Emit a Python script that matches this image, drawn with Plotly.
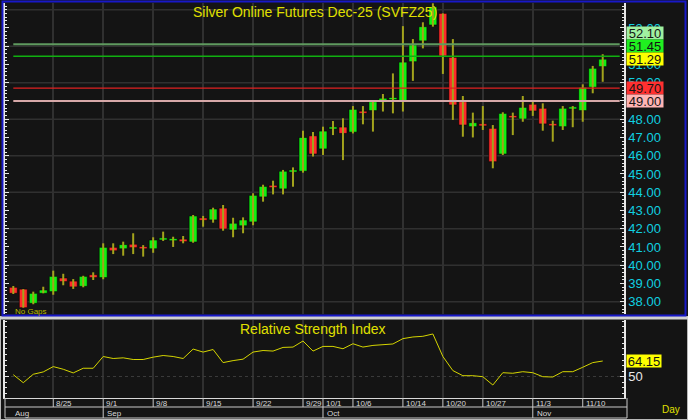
import plotly.graph_objects as go

W, H = 688, 420

bar_idx = list(range(60))
opens = [38.79, 38.69, 37.91, 38.46, 38.55, 39.30, 39.13, 38.84, 39.48, 39.32,
         40.98, 40.90, 41.15, 40.98, 40.90, 41.38, 41.34, 41.43, 41.27, 42.59,
         42.48, 43.13, 41.93, 42.16, 42.37, 43.74, 44.38, 44.18, 45.10, 45.15,
         47.09, 46.37, 47.46, 47.57, 47.29, 48.40, 48.47, 48.93, 49.07, 49.00,
         51.15, 52.29, 53.16, 53.80, 51.39, 48.96, 47.59, 47.75, 47.50, 46.09,
         48.12, 48.01, 48.82, 48.60, 47.75, 47.59, 48.56, 48.47, 49.75, 50.88]
highs = [38.86, 38.69, 38.55, 38.82, 39.70, 39.53, 39.24, 39.42, 39.61, 41.20,
         41.20, 41.29, 41.75, 41.10, 41.53, 41.84, 41.56, 41.60, 42.75, 42.70,
         43.15, 43.30, 42.60, 42.62, 43.94, 44.41, 44.63, 45.22, 45.36, 47.37,
         47.30, 47.59, 47.90, 48.05, 48.72, 48.72, 49.01, 49.38, 50.51, 53.10,
         52.39, 53.31, 54.35, 53.80, 52.39, 49.27, 48.36, 48.72, 47.68, 48.38,
         48.36, 49.27, 49.05, 48.87, 47.92, 48.72, 48.72, 49.91, 50.92, 51.56]
lows = [38.42, 37.67, 37.86, 38.46, 38.38, 38.90, 38.70, 38.79, 39.19, 39.23,
        40.61, 40.52, 40.61, 40.47, 40.68, 41.33, 41.00, 41.20, 41.23, 42.11,
        42.33, 41.89, 41.53, 41.75, 42.19, 43.48, 43.88, 43.88, 44.30, 45.07,
        45.95, 46.04, 47.13, 45.76, 47.22, 47.72, 47.32, 48.42, 48.32, 48.42,
        50.10, 51.88, 53.07, 50.48, 47.96, 47.04, 47.00, 47.41, 45.31, 46.04,
        47.13, 47.86, 48.18, 47.37, 46.77, 47.41, 47.56, 47.86, 49.42, 50.05]
closes = [38.46, 37.67, 38.46, 38.64, 39.39, 39.10, 38.81, 39.39, 39.32, 40.98,
          40.79, 41.13, 40.96, 40.90, 41.38, 41.42, 41.42, 41.29, 42.70, 42.46,
          43.08, 41.98, 42.30, 42.48, 43.83, 44.32, 44.25, 45.15, 45.18, 47.00,
          46.09, 47.35, 47.50, 47.22, 48.54, 48.32, 48.96, 49.15, 49.11, 51.13,
          52.07, 53.07, 54.16, 51.46, 48.78, 47.68, 47.81, 47.63, 45.67, 48.32,
          48.08, 48.65, 48.45, 47.74, 47.64, 48.60, 48.62, 49.75, 50.79, 51.29]
rsi = [51.8, 44.6, 52.2, 54.3, 59.1, 56.7, 53.4, 57.6, 57.6, 68.2,
       66.4, 67.0, 65.5, 65.5, 67.6, 69.1, 68.2, 66.4, 74.9, 72.2,
       74.5, 62.7, 64.5, 65.8, 72.2, 73.6, 73.1, 76.4, 76.7, 82.2,
       73.1, 77.3, 77.3, 75.2, 79.7, 76.7, 78.2, 79.1, 79.5, 84.3,
       85.8, 86.4, 88.5, 68.2, 55.5, 50.9, 50.9, 50.0, 42.5, 53.6,
       53.1, 54.5, 53.6, 50.0, 49.7, 54.5, 54.5, 58.5, 62.7, 64.15]

tick_idx = [4, 9, 14, 19, 24, 29, 31, 34, 39, 43, 47, 52, 57]
tick_labels = ["8/25", "9/1", "9/8", "9/15", "9/22", "9/29", "10/1", "10/6",
               "10/14", "10/20", "10/27", "11/3", "11/10"]
month_idx = [0, 9, 31, 52]
month_labels = ["Aug", "Sep", "Oct", "Nov"]

price_ticks = list(range(38, 54))
level_values = [52.10, 51.45, 49.70, 49.00]
level_line_colors = ["#5f9a5f", "#10b010", "#e02020", "#d6a8a8"]
level_line_widths = [2, 1.5, 1.2, 2]
box_values = [52.10, 51.45, 51.29, 49.70, 49.00]
box_colors = ["#a0f0a0", "#20f020", "#ffff00", "#ff3030", "#ffb4b4"]
box_shift = [11, 10, 0, 0, 0]
last_rsi = rsi[-1]

X_RANGE = [-0.83, 61.13]
Y_RANGE = [37.326, 54.367]
RSI_RANGE = [30.8, 101.1]

def px(x):
    return x / W

def py(y):
    return 1 - y / H

GREEN = "#10f010"
RED = "#ff2a2a"
WICK = "#a3a31c"
BG = "#141414"
GRID = "#303030"
CYAN = "#10d0e0"
YEL = "#e0e000"
FONT = "Arial, Liberation Sans, sans-serif"

fig = go.Figure()

# wicks
wx, wy = [], []
for i, h, l in zip(bar_idx, highs, lows):
    wx += [i, i, None]
    wy += [l, h, None]
fig.add_trace(go.Scatter(x=wx, y=wy, mode="lines", line=dict(color=WICK, width=2),
                         hoverinfo="skip", showlegend=False, xaxis="x", yaxis="y"))

# bodies
base = [min(o, c) for o, c in zip(opens, closes)]
height = [max(abs(c - o), 0.12) for o, c in zip(opens, closes)]
colors = [GREEN if c >= o else RED for o, c in zip(opens, closes)]
fig.add_trace(go.Bar(x=bar_idx, y=height, base=base, width=0.8,
                     marker=dict(color=colors, line=dict(color="#000000", width=0.6)),
                     showlegend=False, xaxis="x", yaxis="y"))

# RSI
fig.add_trace(go.Scatter(x=bar_idx, y=rsi, mode="lines", line=dict(color="#d4d400", width=1),
                         showlegend=False, xaxis="x2", yaxis="y2"))

shapes = []
for v in range(38, 55, 2):
    shapes.append(dict(type="line", xref="x", yref="y", x0=X_RANGE[0], x1=X_RANGE[1],
                       y0=v, y1=v, line=dict(color=GRID, width=1.5), layer="below"))
for v, c, w in zip(level_values, level_line_colors, level_line_widths):
    shapes.append(dict(type="line", xref="x", yref="y", x0=0, x1=60.7, y0=v, y1=v,
                       line=dict(color=c, width=w)))

row_top, row_mid, row_bot = 398, 407, 418
for t in tick_idx:
    shapes.append(dict(type="line", xref="x2", yref="paper", x0=t, x1=t,
                       y0=py(row_mid), y1=py(row_top), line=dict(color="#c8c8c8", width=1)))
for m in month_idx[1:]:
    shapes.append(dict(type="line", xref="x2", yref="paper", x0=m, x1=m,
                       y0=py(row_bot), y1=py(row_mid), line=dict(color="#c8c8c8", width=1)))
shapes.append(dict(type="line", xref="paper", yref="paper", x0=px(5), x1=px(627),
                   y0=py(row_mid), y1=py(row_mid), line=dict(color="#c8c8c8", width=1)))
shapes.append(dict(type="line", xref="paper", yref="paper", x0=px(5), x1=px(627),
                   y0=py(row_bot), y1=py(row_bot), line=dict(color="#c8c8c8", width=1)))
shapes.append(dict(type="line", xref="paper", yref="paper", x0=px(627), x1=px(627),
                   y0=py(row_bot), y1=py(row_top), line=dict(color="#c8c8c8", width=1)))
shapes.append(dict(type="line", xref="paper", yref="paper", x0=px(5), x1=px(5),
                   y0=py(row_bot), y1=py(row_top), line=dict(color="#c8c8c8", width=1)))

shapes.append(dict(type="rect", xref="paper", yref="paper", x0=0, x1=1, y0=0, y1=py(317),
                   line=dict(color="#b8b8b8", width=2), fillcolor="rgba(0,0,0,0)"))
shapes.append(dict(type="rect", xref="paper", yref="paper", x0=0, x1=1, y0=py(319.5), y1=py(316.5),
                   line=dict(width=0), fillcolor="#d0d0d0"))
shapes.append(dict(type="rect", xref="paper", yref="paper", x0=px(2.5), x1=px(685.5),
                   y0=py(315.5), y1=py(1.5), line=dict(color="#1818c8", width=2),
                   fillcolor="rgba(0,0,0,0)"))

annotations = []
annotations.append(dict(text="Silver Online Futures Dec-25 (SVFZ25)", xref="paper", yref="paper",
                        x=px(315), y=py(12), xanchor="center", yanchor="middle", showarrow=False,
                        font=dict(family=FONT, size=14, color=YEL)))
annotations.append(dict(text="Relative Strength Index", xref="paper", yref="paper",
                        x=px(313), y=py(329), xanchor="center", yanchor="middle", showarrow=False,
                        font=dict(family=FONT, size=14, color=YEL)))
annotations.append(dict(text="No Gaps", xref="paper", yref="paper", x=px(13), y=py(311),
                        xanchor="left", yanchor="middle", showarrow=False,
                        font=dict(family=FONT, size=8, color="#b8b800")))
annotations.append(dict(text="Day", xref="paper", yref="paper", x=px(671), y=py(409),
                        xanchor="center", yanchor="middle", showarrow=False,
                        font=dict(family=FONT, size=10, color=YEL)))
for t, lab in zip(tick_idx, tick_labels):
    annotations.append(dict(text=lab, xref="x2", yref="paper", x=t, y=py(403), xanchor="left",
                            yanchor="middle", xshift=1, showarrow=False,
                            font=dict(family=FONT, size=8, color="#d8d8d8")))
for m, lab in zip(month_idx, month_labels):
    annotations.append(dict(text=lab, xref="x2", yref="paper", x=m, y=py(413), xanchor="left",
                            yanchor="middle", xshift=2 if m else 0, showarrow=False,
                            font=dict(family=FONT, size=8, color="#d8d8d8")))
for v, c, s in zip(box_values, box_colors, box_shift):
    annotations.append(dict(text=f"{v:.2f}", xref="paper", yref="y", x=px(626), y=v,
                            xanchor="left", yanchor="middle", yshift=s, showarrow=False,
                            bgcolor=c, width=36, height=12, borderpad=0,
                            font=dict(family=FONT, size=13, color="#141414")))
annotations.append(dict(text=f"{last_rsi:.2f}", xref="paper", yref="y2", x=px(626), y=last_rsi,
                        xanchor="left", yanchor="middle", showarrow=False,
                        bgcolor="#ffff00", width=34, height=12, borderpad=0,
                        font=dict(family=FONT, size=13, color="#141414")))
annotations.append(dict(text="→", xref="x", yref="y", x=61.3, y=closes[-1], xanchor="right",
                        yanchor="middle", showarrow=False, font=dict(family=FONT, size=9, color=YEL)))
annotations.append(dict(text="→", xref="x2", yref="y2", x=61.3, y=last_rsi, xanchor="right",
                        yanchor="middle", showarrow=False, font=dict(family=FONT, size=9, color=YEL)))

fig.update_layout(
    width=W, height=H, margin=dict(l=0, r=0, t=0, b=0),
    paper_bgcolor=BG, plot_bgcolor=BG, barmode="overlay", showlegend=False,
    shapes=shapes, annotations=annotations,
    xaxis=dict(domain=[px(5), px(624)], range=X_RANGE, anchor="y", tickmode="array",
               tickvals=tick_idx, showticklabels=False, ticks="", showgrid=True,
               gridcolor=GRID, gridwidth=1.5, zeroline=False, showline=False),
    yaxis=dict(domain=[py(314), py(3)], range=Y_RANGE, anchor="x", side="right",
               tickmode="array", tickvals=price_ticks, ticktext=[f"{v:.2f}" for v in price_ticks],
               tickfont=dict(family=FONT, size=13, color=CYAN), ticks="inside", ticklen=4,
               tickcolor="#e8e8e8", showline=True, linecolor="#e8e8e8", linewidth=1.5,
               mirror="ticks", showgrid=False, zeroline=False,
               minor=dict(tickmode="linear", tick0=0, dtick=0.2, ticks="inside", ticklen=2,
                          tickcolor="#e8e8e8", showgrid=False)),
    xaxis2=dict(domain=[px(5), px(624)], range=X_RANGE, anchor="y2", tickmode="array",
                tickvals=tick_idx, showticklabels=False, ticks="", showgrid=True,
                gridcolor=GRID, gridwidth=1.5, zeroline=False, showline=True,
                linecolor="#d8d8d8", linewidth=1),
    yaxis2=dict(domain=[py(398), py(320)], range=RSI_RANGE, anchor="x2", side="right",
                tickmode="array", tickvals=[50], ticktext=["50"],
                tickfont=dict(family=FONT, size=13, color="#e8e8e8"), ticks="inside", ticklen=4,
                tickcolor="#e8e8e8", showline=True, linecolor="#e8e8e8", linewidth=1.5,
                mirror="ticks", showgrid=True, gridcolor="#3a3a3a", griddash="dot", zeroline=False,
                minor=dict(tickmode="linear", tick0=0, dtick=5, ticks="inside", ticklen=2,
                           tickcolor="#e8e8e8", showgrid=False)),
)

fig.write_html("out.html", config={"displayModeBar": False},
               post_script="document.body.style.margin='0';document.body.style.overflow='hidden';")
